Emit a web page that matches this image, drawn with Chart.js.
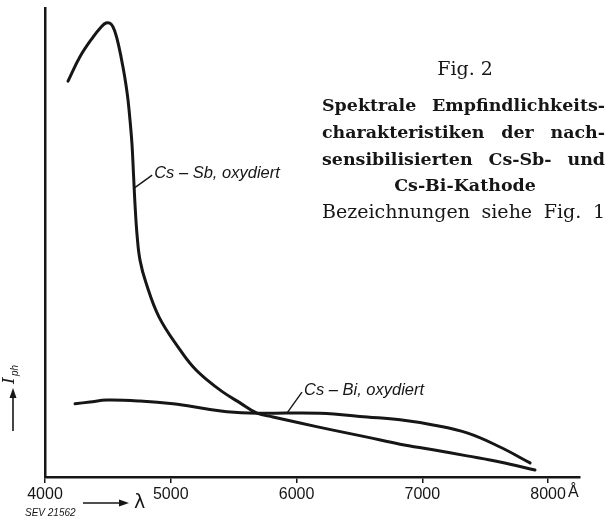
<!DOCTYPE html>
<html>
<head>
<meta charset="utf-8">
<script src="https://cdn.jsdelivr.net/npm/chart.js@4.4.1/dist/chart.umd.min.js"></script>
<style>
  html, body { margin: 0; padding: 0; background: #fff; }
  #wrap { width: 609px; height: 520px; }
</style>
</head>
<body>
<div id="wrap"><canvas id="fig" width="609" height="520"></canvas></div>
<script>
// Fig. 2 – spektrale Empfindlichkeit Cs-Sb / Cs-Bi (nachsensibilisiert)
// wavelength in Angstrom, photo current in relative units (0..100 = axis height)

const xTicks = [4000, 5000, 6000, 7000, 8000]

const sbWave = [4183, 4278, 4382, 4445, 4485, 4525, 4557, 4588, 4620, 4644, 4660, 4676, 4692, 4704, 4716, 4732, 4755, 4803, 4907, 5074, 5177, 5288, 5415, 5551, 5686, 5813, 6028, 6290, 6561, 6823, 7085, 7356, 7618, 7896]
const sbResp = [84.4, 89.6, 93.8, 95.9, 96.8, 96.6, 94.9, 91.7, 87.4, 83.6, 80.4, 76.1, 70.8, 64.4, 58.0, 51.6, 46.3, 41.4, 34.1, 27.1, 23.5, 20.7, 18.1, 15.8, 13.6, 12.8, 11.5, 10.0, 8.5, 7.0, 5.8, 4.5, 3.2, 1.5]

const biWave = [4239, 4358, 4493, 4755, 5018, 5288, 5447, 5686, 6187, 6561, 6823, 7085, 7356, 7618, 7857]
const biResp = [15.6, 16.0, 16.4, 16.2, 15.6, 14.5, 13.9, 13.6, 13.6, 12.8, 12.2, 11.1, 9.4, 6.4, 3.0]

const INK = '#161616'

function toPoints(xs, ys) {
  return xs.map((x, i) => ({ x, y: ys[i] }))
}

// draws words of a line spread over the given width
function justify(ctx, words, x0, width, y) {
  const widths = words.map(w => ctx.measureText(w).width)
  const total = widths.reduce((a, b) => a + b, 0)
  const gap = words.length > 1 ? (width - total) / (words.length - 1) : 0
  let x = x0
  ctx.textAlign = 'left'
  words.forEach((w, i) => {
    ctx.fillText(w, x, y)
    x += widths[i] + gap
  })
}

function fitFont(ctx, weight, family, sample, target) {
  ctx.font = `${weight} 16px ${family}`
  const w = ctx.measureText(sample).width
  return (16 * target / w).toFixed(2)
}

const textPlugin = {
  id: 'figText',
  afterDraw(chart) {
    const { ctx, scales: { x, y } } = chart
    ctx.save()
    ctx.fillStyle = INK
    ctx.strokeStyle = INK
    ctx.textBaseline = 'middle'

    // Angstrom unit after the last tick label
    ctx.font = '16px "Liberation Sans", Arial, sans-serif'
    ctx.textAlign = 'left'
    ctx.fillText('Å', x.getPixelForValue(8000) + 20, 493)

    // curve labels with leader lines
    const labels = [
      { text: 'Cs – Sb, oxydiert', at: [4709, 61.6], dx: 18, dy: -13 },
      { text: 'Cs – Bi, oxydiert', at: [5924, 13.6], dx: 15, dy: -21 }
    ]
    ctx.font = 'italic 16.5px "Liberation Sans", Arial, sans-serif'
    ctx.lineWidth = 1.4
    labels.forEach(l => {
      const px = x.getPixelForValue(l.at[0])
      const py = y.getPixelForValue(l.at[1])
      ctx.beginPath()
      ctx.moveTo(px, py)
      ctx.lineTo(px + l.dx, py + l.dy)
      ctx.stroke()
      ctx.fillText(l.text, px + l.dx + 2, py + l.dy - 2)
    })

    // y axis name with arrow
    ctx.lineWidth = 1.6
    ctx.beginPath()
    ctx.moveTo(13, 431)
    ctx.lineTo(13, 395)
    ctx.stroke()
    ctx.beginPath()
    ctx.moveTo(13, 388)
    ctx.lineTo(9.5, 398)
    ctx.lineTo(16.5, 398)
    ctx.closePath()
    ctx.fill()
    ctx.save()
    ctx.translate(14, 384)
    ctx.rotate(-Math.PI / 2)
    ctx.textAlign = 'left'
    ctx.textBaseline = 'alphabetic'
    ctx.font = 'italic 17px "DejaVu Serif", serif'
    ctx.fillText('I', 0, 0)
    ctx.font = 'italic 10px "Liberation Sans", sans-serif'
    ctx.fillText('ph', 8, 4)
    ctx.restore()

    // x axis name with arrow
    ctx.beginPath()
    ctx.moveTo(83, 503)
    ctx.lineTo(121, 503)
    ctx.stroke()
    ctx.beginPath()
    ctx.moveTo(129, 503)
    ctx.lineTo(119, 499.5)
    ctx.lineTo(119, 506.5)
    ctx.closePath()
    ctx.fill()
    ctx.font = '19px "DejaVu Sans", sans-serif'
    ctx.fillText('λ', 134, 503)

    ctx.font = 'italic 10px "Liberation Sans", Arial, sans-serif'
    ctx.fillText('SEV 21562', 25, 513)

    // caption block
    const serif = '"DejaVu Serif", "Liberation Serif", serif'
    const left = 322, width = 283, mid = 465
    const regSize = fitFont(ctx, 'normal', serif, 'Bezeichnungen', 148)
    const boldSize = fitFont(ctx, 'bold', serif, 'Empfindlichkeits-', 173)

    ctx.font = `normal ${regSize}px ${serif}`
    ctx.textAlign = 'center'
    ctx.fillText('Fig. 2', mid, 70)

    ctx.font = `bold ${boldSize}px ${serif}`
    justify(ctx, ['Spektrale', 'Empfindlichkeits-'], left, width, 106)
    justify(ctx, ['charakteristiken', 'der', 'nach-'], left, width, 133)
    justify(ctx, ['sensibilisierten', 'Cs-Sb-', 'und'], left, width, 160)
    ctx.textAlign = 'center'
    ctx.fillText('Cs-Bi-Kathode', mid, 186)

    ctx.font = `normal ${regSize}px ${serif}`
    justify(ctx, ['Bezeichnungen', 'siehe', 'Fig.', '1'], left, width, 213)

    ctx.restore()
  }
}

const curveStyle = {
  borderColor: INK,
  borderWidth: 3,
  pointRadius: 0,
  fill: false,
  tension: 0.4,
  borderCapStyle: 'round',
  borderJoinStyle: 'round'
}

new Chart(document.getElementById('fig'), {
  type: 'line',
  data: {
    datasets: [
      { label: 'Cs-Sb, oxydiert', data: toPoints(sbWave, sbResp), ...curveStyle },
      { label: 'Cs-Bi, oxydiert', data: toPoints(biWave, biResp), ...curveStyle }
    ]
  },
  options: {
    responsive: false,
    animation: false,
    layout: { padding: { top: 8, right: 29, left: 0, bottom: 0 } },
    plugins: {
      legend: { display: false },
      tooltip: { enabled: false }
    },
    scales: {
      x: {
        type: 'linear',
        min: 4000,
        max: 8254,
        afterBuildTicks: (scale) => { scale.ticks = xTicks.map(v => ({ value: v })) },
        afterFit: (scale) => { scale.height = 43 },
        border: { color: INK, width: 2.5 },
        grid: { drawOnChartArea: false, drawTicks: true, tickLength: 6, color: INK, lineWidth: 1.5 },
        ticks: {
          color: INK,
          padding: 2,
          maxRotation: 0,
          font: { family: '"Liberation Sans", Arial, sans-serif', size: 16 },
          callback: (v) => String(v)
        }
      },
      y: {
        min: 0,
        max: 100,
        afterFit: (scale) => { scale.width = 45 },
        border: { color: INK, width: 2.5 },
        grid: { display: false },
        ticks: { display: false }
      }
    }
  },
  plugins: [textPlugin]
})
</script>
</body>
</html>
